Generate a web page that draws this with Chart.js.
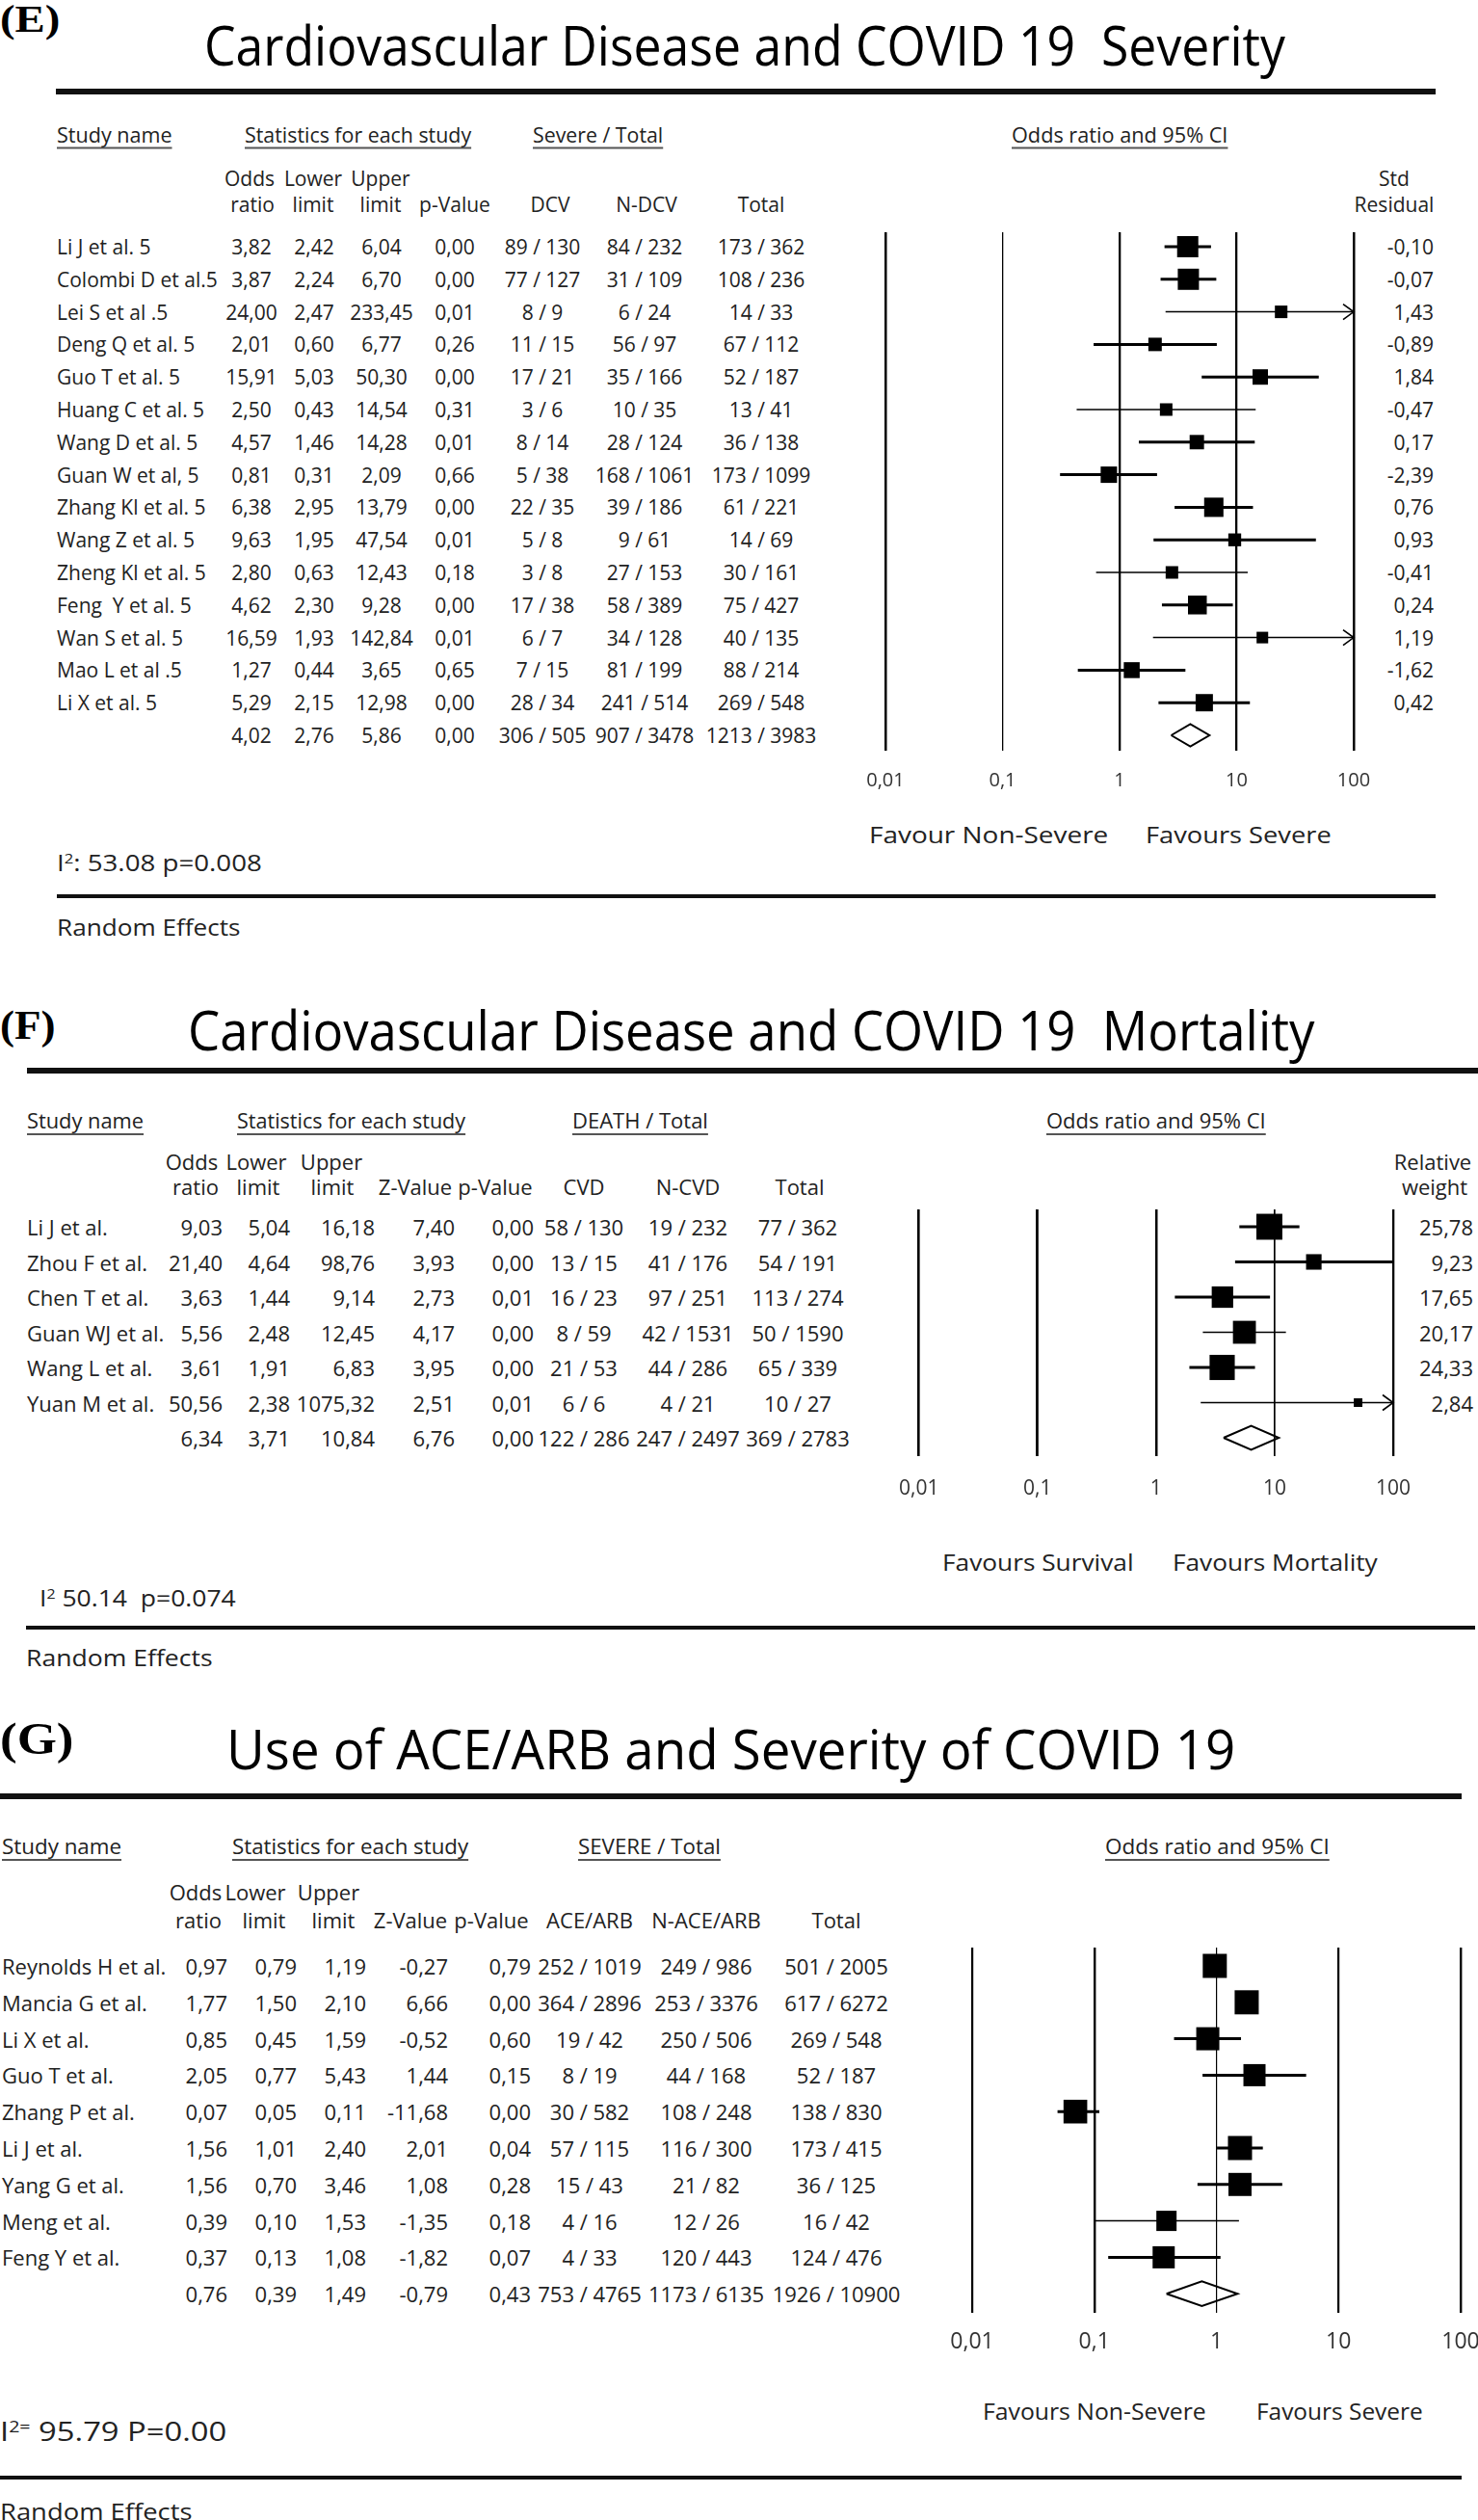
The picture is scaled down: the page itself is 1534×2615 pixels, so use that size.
<!DOCTYPE html>
<html>
<head>
<meta charset="utf-8">
<script src="https://cdn.jsdelivr.net/npm/chart.js@4.4.1/dist/chart.umd.min.js"></script>
<style>
html, body { margin: 0; padding: 0; width: 1534px; height: 2615px; overflow: hidden; background: #fff; }
#page { position: relative; width: 1534px; height: 2615px; overflow: hidden; }
.t { position: absolute; white-space: pre; line-height: 1; font-family: "Open Sans", sans-serif; color: #222; }
.lab { font-family: "Liberation Serif", serif; font-weight: bold; color: #000; }
.ttl { font-weight: 500; color: #000; }
.u { text-decoration: underline; text-decoration-thickness: 2px; text-underline-offset: 5px; text-decoration-color: #555; }
.t sup { font-size: 0.6em; vertical-align: baseline; position: relative; top: -0.55em; }
.rule { position: absolute; background: #111; }
canvas { position: absolute; }
</style>
</head>
<body>
<div id="page"></div>
<script>
// ---------- (E) Cardiovascular disease and severity ----------
const studiesE = ["Li J et al. 5", "Colombi D et al.5", "Lei S et al .5", "Deng Q et al. 5", "Guo T et al. 5",
  "Huang C et al. 5", "Wang D et al. 5", "Guan W et al, 5", "Zhang Kl et al. 5", "Wang Z et al. 5",
  "Zheng Kl et al. 5", "Feng  Y et al. 5", "Wan S et al. 5", "Mao L et al .5", "Li X et al. 5"];
const orE = [3.82, 3.87, 24.00, 2.01, 15.91, 2.50, 4.57, 0.81, 6.38, 9.63, 2.80, 4.62, 16.59, 1.27, 5.29];
const loE = [2.42, 2.24, 2.47, 0.60, 5.03, 0.43, 1.46, 0.31, 2.95, 1.95, 0.63, 2.30, 1.93, 0.44, 2.15];
const hiE = [6.04, 6.70, 233.45, 6.77, 50.30, 14.54, 14.28, 2.09, 13.79, 47.54, 12.43, 9.28, 142.84, 3.65, 12.98];
const pE = [0.00, 0.00, 0.01, 0.26, 0.00, 0.31, 0.01, 0.66, 0.00, 0.01, 0.18, 0.00, 0.01, 0.65, 0.00];
const dcvE = ["89 / 130", "77 / 127", "8 / 9", "11 / 15", "17 / 21", "3 / 6", "8 / 14", "5 / 38", "22 / 35", "5 / 8",
  "3 / 8", "17 / 38", "6 / 7", "7 / 15", "28 / 34"];
const ndcvE = ["84 / 232", "31 / 109", "6 / 24", "56 / 97", "35 / 166", "10 / 35", "28 / 124", "168 / 1061", "39 / 186",
  "9 / 61", "27 / 153", "58 / 389", "34 / 128", "81 / 199", "241 / 514"];
const totalE = ["173 / 362", "108 / 236", "14 / 33", "67 / 112", "52 / 187", "13 / 41", "36 / 138", "173 / 1099",
  "61 / 221", "14 / 69", "30 / 161", "75 / 427", "40 / 135", "88 / 214", "269 / 548"];
const residE = [-0.10, -0.07, 1.43, -0.89, 1.84, -0.47, 0.17, -2.39, 0.76, 0.93, -0.41, 0.24, 1.19, -1.62, 0.42];
// box weights are not printed for (E), read from the square sizes
const weightE = [11.7, 11.7, 4.1, 4.7, 6.2, 4.1, 5.4, 7.0, 9.7, 4.3, 4.1, 9.2, 3.5, 6.6, 7.8];
const summaryE = [4.02, 2.76, 5.86, 0.00];
const summaryCountsE = ["306 / 505", "907 / 3478", "1213 / 3983"];

// ---------- (F) Cardiovascular disease and mortality ----------
const studiesF = ["Li J et al.", "Zhou F et al.", "Chen T et al.", "Guan WJ et al.", "Wang L et al.", "Yuan M et al."];
const orF = [9.03, 21.40, 3.63, 5.56, 3.61, 50.56];
const loF = [5.04, 4.64, 1.44, 2.48, 1.91, 2.38];
const hiF = [16.18, 98.76, 9.14, 12.45, 6.83, 1075.32];
const zF = [7.40, 3.93, 2.73, 4.17, 3.95, 2.51];
const pF = [0.00, 0.00, 0.01, 0.00, 0.00, 0.01];
const cvdF = ["58 / 130", "13 / 15", "16 / 23", "8 / 59", "21 / 53", "6 / 6"];
const ncvdF = ["19 / 232", "41 / 176", "97 / 251", "42 / 1531", "44 / 286", "4 / 21"];
const totalF = ["77 / 362", "54 / 191", "113 / 274", "50 / 1590", "65 / 339", "10 / 27"];
const weightF = [25.78, 9.23, 17.65, 20.17, 24.33, 2.84];
const summaryF = [6.34, 3.71, 10.84, 6.76, 0.00];
const summaryCountsF = ["122 / 286", "247 / 2497", "369 / 2783"];

// ---------- (G) ACE/ARB and severity ----------
const studiesG = ["Reynolds H et al.", "Mancia G et al.", "Li X et al.", "Guo T et al.", "Zhang P et al.",
  "Li J et al.", "Yang G et al.", "Meng et al.", "Feng Y et al."];
const orG = [0.97, 1.77, 0.85, 2.05, 0.07, 1.56, 1.56, 0.39, 0.37];
const loG = [0.79, 1.50, 0.45, 0.77, 0.05, 1.01, 0.70, 0.10, 0.13];
const hiG = [1.19, 2.10, 1.59, 5.43, 0.11, 2.40, 3.46, 1.53, 1.08];
const zG = [-0.27, 6.66, -0.52, 1.44, -11.68, 2.01, 1.08, -1.35, -1.82];
const pG = [0.79, 0.00, 0.60, 0.15, 0.00, 0.04, 0.28, 0.18, 0.07];
const aceG = ["252 / 1019", "364 / 2896", "19 / 42", "8 / 19", "30 / 582", "57 / 115", "15 / 43", "4 / 16", "4 / 33"];
const naceG = ["249 / 986", "253 / 3376", "250 / 506", "44 / 168", "108 / 248", "116 / 300", "21 / 82", "12 / 26", "120 / 443"];
const totalG = ["501 / 2005", "617 / 6272", "269 / 548", "52 / 187", "138 / 830", "173 / 415", "36 / 125", "16 / 42", "124 / 476"];
const weightG = [12.2, 12.2, 11.2, 10.3, 11.8, 12.2, 11.2, 8.6, 10.3];
const summaryG = [0.76, 0.39, 1.49, -0.79, 0.43];
const summaryCountsG = ["753 / 4765", "1173 / 6135", "1926 / 10900"];

const axisTicks = [0.01, 0.1, 1, 10, 100];

// ---------------------------------------------------------------
const page = document.getElementById('page');
const fmt = v => v.toFixed(2).replace('.', ',');

// text placed by its anchor (l / c / r) and vertical middle; w = squeeze to a width
function put(x, y, html, fs, align, o) {
    o = o || {};
    const d = document.createElement('div');
    d.className = 't' + (o.cls ? ' ' + o.cls : '');
    d.innerHTML = html;
    d.style.left = x + 'px';
    d.style.top = y + 'px';
    d.style.fontSize = fs + 'px';
    page.appendChild(d);
    const sx = o.w ? o.w / d.offsetWidth : 1;
    const tx = align === 'c' ? '-50%' : align === 'r' ? '-100%' : '0px';
    d.style.transformOrigin = (align === 'c' ? 'center' : align === 'r' ? 'right' : 'left') + ' center';
    d.style.transform = 'translate(' + tx + ',-50%) scaleX(' + sx.toFixed(4) + ')';
    return d;
}

function rule(x1, x2, y, h) {
    const r = document.createElement('div');
    r.className = 'rule';
    r.style.left = x1 + 'px';
    r.style.width = (x2 - x1) + 'px';
    r.style.top = (y - h / 2) + 'px';
    r.style.height = h + 'px';
    page.appendChild(r);
}

function tableRows(rows, cols, row0, gap, fs) {
    rows.forEach((r, i) => r.forEach((s, j) => {
        if (s !== '') put(cols[j][0], row0 + i * gap, s, fs, cols[j][1]);
    }));
}

// arrow heads for intervals that run past the axis end
const arrowHeads = {
    id: 'arrowHeads',
    afterDatasetsDraw(chart, args, opts) {
        const xs = chart.scales.x, ys = chart.scales.y, ctx = chart.ctx;
        opts.hi.forEach((h, i) => {
            if (h <= xs.max) return;
            const px = xs.getPixelForValue(xs.max), py = ys.getPixelForValue(i);
            ctx.save();
            ctx.strokeStyle = '#000';
            ctx.lineWidth = 1.6;
            ctx.beginPath();
            ctx.moveTo(px - 11, py - 8);
            ctx.lineTo(px, py);
            ctx.lineTo(px - 11, py + 8);
            ctx.stroke();
            ctx.restore();
        });
    }
};

function forest(p) {
    const n = p.or.length;
    const rowMin = -(p.row0 - p.top) / p.gap;
    const rowMax = (p.bottom - p.row0) / p.gap;
    const left = p.x0 - 40, right = p.x1 + 50, top = p.top - 40;
    const cv = document.createElement('canvas');
    cv.width = right - left;
    cv.height = p.bottom + 60 - top;
    cv.style.left = left + 'px';
    cv.style.top = top + 'px';
    page.appendChild(cv);
    const xmax = axisTicks[axisTicks.length - 1];

    const datasets = [{
        data: p.or.map((v, i) => ({ x: v, y: i })),
        pointStyle: 'rect',
        pointRadius: c => p.k * Math.sqrt(p.w[c.dataIndex]) / Math.SQRT2,
        backgroundColor: '#000', borderColor: '#000', borderWidth: 0, clip: false
    }];
    p.lo.forEach((lo, i) => datasets.push({
        data: [{ x: lo, y: i }, { x: Math.min(p.hi[i], xmax), y: i }],
        showLine: true, pointRadius: 0, borderColor: '#000', clip: false,
        borderWidth: p.thin.includes(i) ? 1.5 : 3
    }));
    const s = p.sum;
    datasets.push({
        data: [{ x: s[1], y: n }, { x: s[0], y: n - 0.34 }, { x: s[2], y: n }, { x: s[0], y: n + 0.34 }, { x: s[1], y: n }],
        showLine: true, pointRadius: 0, borderColor: '#000', borderWidth: 2, clip: false
    });

    return new Chart(cv, {
        type: 'scatter',
        data: { datasets },
        options: {
            responsive: false, animation: false, devicePixelRatio: 1, events: [],
            layout: { padding: { left: 40, right: 50, top: 40, bottom: 0 } },
            plugins: { legend: { display: false }, tooltip: { enabled: false }, arrowHeads: { hi: p.hi } },
            scales: {
                x: {
                    type: 'logarithmic', min: axisTicks[0], max: xmax,
                    border: { display: false },
                    grid: { color: '#000', drawTicks: false, lineWidth: c => p.gridW[c.index] },
                    ticks: {
                        padding: p.tickPad, color: '#333', autoSkip: false, maxRotation: 0,
                        font: { family: 'Open Sans', size: p.tickFs },
                        callback: v => String(v).replace('.', ',')
                    },
                    afterBuildTicks: sc => { sc.ticks = axisTicks.map(v => ({ value: v })); },
                    afterFit: sc => { sc.height = 60; }
                },
                y: { type: 'linear', reverse: true, min: rowMin, max: rowMax, display: false }
            }
        },
        plugins: [arrowHeads]
    });
}

// ======================= panel E =======================
put(0, 20, '(E)', 40, 'l', { cls: 'lab', w: 62 });
put(212, 46, 'Cardiovascular Disease and COVID 19  Severity', 56, 'l', { cls: 'ttl', w: 1122 });
rule(58, 1490, 95, 6);
put(59, 140, 'Study name', 21, 'l', { cls: 'u', w: 119 });
put(254, 140, 'Statistics for each study', 21, 'l', { cls: 'u', w: 235 });
put(553, 140, 'Severe / Total', 21, 'l', { cls: 'u', w: 135 });
put(1050, 140, 'Odds ratio and 95% CI', 21, 'l', { cls: 'u', w: 224 });
[['Odds', 259], ['Lower', 325], ['Upper', 395], ['Std', 1447]].forEach(h => put(h[1], 185, h[0], 21, 'c'));
[['ratio', 262], ['limit', 325], ['limit', 395], ['p-Value', 472], ['DCV', 571], ['N-DCV', 671], ['Total', 790], ['Residual', 1447]]
    .forEach(h => put(h[1], 212, h[0], 21, 'c'));
const rowsE = studiesE.map((s, i) => [s, fmt(orE[i]), fmt(loE[i]), fmt(hiE[i]), fmt(pE[i]), dcvE[i], ndcvE[i], totalE[i], fmt(residE[i])]);
rowsE.push(['', ...summaryE.map(fmt), ...summaryCountsE, '']);
tableRows(rowsE, [[59, 'l'], [261, 'c'], [326, 'c'], [396, 'c'], [472, 'c'], [563, 'c'], [669, 'c'], [790, 'c'], [1488, 'r']], 256, 33.8, 21);
forest({ or: orE, lo: loE, hi: hiE, w: weightE, k: 6.43, sum: summaryE, thin: [2, 5, 10, 12],
    x0: 919, x1: 1405, top: 241, bottom: 779, row0: 256, gap: 33.8,
    gridW: [2.5, 1.3, 2.3, 2.3, 2.5], tickFs: 20, tickPad: 19 });
put(902, 866, 'Favour Non-Severe', 24, 'l', { w: 248 });
put(1189, 866, 'Favours Severe', 24, 'l', { w: 193 });
put(59, 895, 'I<sup>2</sup>: 53.08 p=0.008', 23, 'l', { w: 213 });
rule(59, 1490, 930, 4);
put(59, 962, 'Random Effects', 23, 'l', { w: 191 });

// ======================= panel F =======================
put(0, 1064, '(F)', 42, 'l', { cls: 'lab', w: 58 });
put(195, 1068, 'Cardiovascular Disease and COVID 19  Mortality', 56, 'l', { cls: 'ttl', w: 1169 });
rule(28, 1534, 1111, 6);
put(28, 1162, 'Study name', 22, 'l', { cls: 'u', w: 121 });
put(246, 1162, 'Statistics for each study', 22, 'l', { cls: 'u', w: 237 });
put(594, 1162, 'DEATH / Total', 22, 'l', { cls: 'u', w: 141 });
put(1086, 1162, 'Odds ratio and 95% CI', 22, 'l', { cls: 'u', w: 228 });
[['Odds', 199], ['Lower', 266], ['Upper', 344], ['Relative', 1487]].forEach(h => put(h[1], 1205, h[0], 22, 'c'));
[['ratio', 203], ['limit', 268], ['limit', 345], ['Z-Value', 431], ['p-Value', 514], ['CVD', 606], ['N-CVD', 714], ['Total', 830], ['weight', 1489]]
    .forEach(h => put(h[1], 1231, h[0], 22, 'c'));
const rowsF = studiesF.map((s, i) => [s, fmt(orF[i]), fmt(loF[i]), fmt(hiF[i]), fmt(zF[i]), fmt(pF[i]), cvdF[i], ncvdF[i], totalF[i], fmt(weightF[i])]);
rowsF.push(['', ...summaryF.map(fmt), ...summaryCountsF, '']);
tableRows(rowsF, [[28, 'l'], [231, 'r'], [301, 'r'], [389, 'r'], [472, 'r'], [554, 'r'], [606, 'c'], [714, 'c'], [828, 'c'], [1529, 'r']], 1273, 36.5, 22);
forest({ or: orF, lo: loF, hi: hiF, w: weightF, k: 5.3, sum: summaryF, thin: [3, 5],
    x0: 952, x1: 1446, top: 1255, bottom: 1511, row0: 1273, gap: 36.5,
    gridW: [2.6, 2.8, 2.5, 1.7, 2.3], tickFs: 21, tickPad: 21 });
put(978, 1621, 'Favours Survival', 24, 'l', { w: 198 });
put(1217, 1621, 'Favours Mortality', 24, 'l', { w: 213 });
put(41, 1658, 'I<sup>2</sup> 50.14  p=0.074', 23, 'l', { w: 204 });
rule(27, 1531, 1689, 4);
put(27, 1720, 'Random Effects', 23, 'l', { w: 194 });

// ======================= panel G =======================
put(0, 1805, '(G)', 46, 'l', { cls: 'lab', w: 76 });
put(235, 1814, 'Use of ACE/ARB and Severity of COVID 19', 56, 'l', { cls: 'ttl', w: 1047 });
rule(0, 1517, 1864, 6);
put(2, 1915, 'Study name', 22, 'l', { cls: 'u', w: 124 });
put(241, 1915, 'Statistics for each study', 22, 'l', { cls: 'u', w: 245 });
put(600, 1915, 'SEVERE / Total', 22, 'l', { cls: 'u', w: 148 });
put(1147, 1915, 'Odds ratio and 95% CI', 22, 'l', { cls: 'u', w: 233 });
[['Odds', 203], ['Lower', 265], ['Upper', 341]].forEach(h => put(h[1], 1963, h[0], 22, 'c'));
[['ratio', 206], ['limit', 274], ['limit', 346], ['Z-Value', 426], ['p-Value', 510], ['ACE/ARB', 612], ['N-ACE/ARB', 733], ['Total', 868]]
    .forEach(h => put(h[1], 1992, h[0], 22, 'c'));
const rowsG = studiesG.map((s, i) => [s, fmt(orG[i]), fmt(loG[i]), fmt(hiG[i]), fmt(zG[i]), fmt(pG[i]), aceG[i], naceG[i], totalG[i]]);
rowsG.push(['', ...summaryG.map(fmt), ...summaryCountsG]);
tableRows(rowsG, [[2, 'l'], [236, 'r'], [308, 'r'], [380, 'r'], [465, 'r'], [551, 'r'], [612, 'c'], [733, 'c'], [868, 'c']], 2040, 37.8, 22);
forest({ or: orG, lo: loG, hi: hiG, w: weightG, k: 7.16, sum: summaryG, thin: [7],
    x0: 1009, x1: 1516, top: 2021, bottom: 2400, row0: 2040, gap: 37.8,
    gridW: [2.2, 2.4, 1.2, 2.2, 2.4], tickFs: 23, tickPad: 17 });
put(1020, 2502, 'Favours Non-Severe', 24, 'l', { w: 232 });
put(1304, 2502, 'Favours Severe', 24, 'l', { w: 173 });
put(0, 2522, 'I<sup>2=</sup> 95.79 P=0.00', 28, 'l', { w: 235 });
rule(0, 1517, 2571, 4);
put(0, 2606, 'Random Effects', 23, 'l', { w: 200 });
</script>
</body>
</html>
